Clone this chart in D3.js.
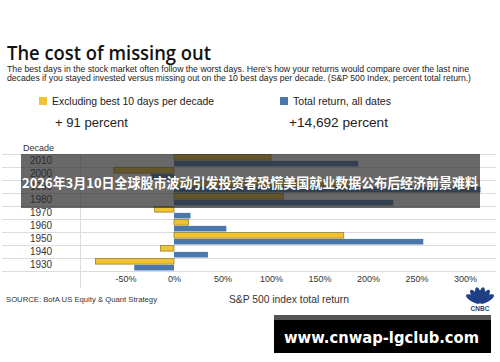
<!DOCTYPE html>
<html>
<head>
<meta charset="utf-8">
<script src="https://cdn.jsdelivr.net/npm/d3@7"></script>
<style>
  body { margin: 0; background: #fff; }
  svg { display: block; font-family: "Liberation Sans", Arial, sans-serif; }
</style>
</head>
<body>
<div id="container"></div>
<script>
// decades, top to bottom
const decades = ['2010', '2000', '1990', '1980', '1970', '1960', '1950', '1940', '1930'];
// percent total return, excluding best 10 days per decade
const excludingBest = [100, -62, 186, 113, -20, 15, 175, -14, -81];
// percent total return, all dates
const totalReturn = [190, -24, 316, 226, 17, 54, 257, 35, -41];
const tickValues = [-50, 0, 50, 100, 150, 200, 250, 300];
const seriesNames = ['Excluding best 10 days per decade', 'Total return, all dates'];
const seriesTotals = ['+ 91 percent', '+14,692 percent'];

window.onload = function () {
	'use strict';
	let options = {
		width: 500,
		height: 362,
		yellow: '#f1c232',
		yellowStroke: '#9a8232',
		blue: '#4a78ad',
		grid: '#dcdcdc',
	};

	let svg = d3.select('#container')
		.append('svg')
		.attr('width', options.width)
		.attr('height', options.height);

	// title block
	svg.append('text')
		.attr('x', 7).attr('y', 59.5)
		.attr('font-family', '"Open Sans", sans-serif')
		.attr('font-size', 19.5).attr('font-weight', 600)
		.attr('fill', '#111')
		.attr('textLength', 204).attr('lengthAdjust', 'spacingAndGlyphs')
		.text('The cost of missing out');
	let sub = svg.append('text')
		.attr('font-size', 8.2).attr('fill', '#222');
	sub.append('tspan').attr('x', 7).attr('y', 71.5)
		.attr('textLength', 462).attr('lengthAdjust', 'spacingAndGlyphs')
		.text('The best days in the stock market often follow the worst days. Here\u2019s how your returns would compare over the last nine');
	sub.append('tspan').attr('x', 7).attr('y', 80.5)
		.attr('textLength', 464).attr('lengthAdjust', 'spacingAndGlyphs')
		.text('decades if you stayed invested versus missing out on the 10 best days per decade. (S&P 500 Index, percent total return.)');

	// legend
	let legendX = [39, 280];
	let legendColors = [options.yellow, options.blue];
	let legendLen = [162, 98];
	let totalX = [55, 289];
	let totalLen = [73, 99];
	seriesNames.forEach((name, i) => {
		svg.append('rect')
			.attr('x', legendX[i]).attr('y', 97)
			.attr('width', 8).attr('height', 8)
			.attr('fill', legendColors[i]);
		svg.append('text')
			.attr('x', legendX[i] + 13).attr('y', 104.5)
			.attr('font-size', 10.2).attr('fill', '#222')
			.attr('textLength', legendLen[i]).attr('lengthAdjust', 'spacingAndGlyphs')
			.text(name);
		svg.append('text')
			.attr('x', totalX[i]).attr('y', 127)
			.attr('font-size', 13.5).attr('fill', '#222')
			.attr('textLength', totalLen[i]).attr('lengthAdjust', 'spacingAndGlyphs')
			.text(seriesTotals[i]);
	});

	// scales
	let x = d3.scaleLinear().domain([-50, 300]).range([125.5, 465]);
	let y = d3.scaleBand().domain(decades).range([154, 271]);
	let inner = d3.scaleBand().domain(['excl', 'total']).range([0, y.bandwidth()])
		.paddingInner(0.12).paddingOuter(0.08);

	// gridlines
	let lines = [...decades.map((d) => y(d)), y(decades[decades.length - 1]) + y.bandwidth()];
	svg.append('g').selectAll('line')
		.data(lines).enter().append('line')
		.attr('x1', 2).attr('x2', 496)
		.attr('y1', (d) => d + 0.5).attr('y2', (d) => d + 0.5)
		.attr('stroke', options.grid).attr('stroke-width', 1);
	svg.append('line')
		.attr('x1', 80.5).attr('x2', 80.5)
		.attr('y1', 154).attr('y2', 288)
		.attr('stroke', options.grid);

	svg.append('text')
		.attr('x', 23).attr('y', 151)
		.attr('font-size', 9).attr('fill', '#333')
		.text('Decade');

	// decade labels
	svg.append('g').selectAll('text')
		.data(decades).enter().append('text')
		.attr('x', 41)
		.attr('y', (d) => y(d) + y.bandwidth() / 2 + 3.5)
		.attr('text-anchor', 'middle')
		.attr('font-size', 10).attr('fill', '#333')
		.text((d) => d);

	let rows = decades.map((d, i) => ({ decade: d, excl: excludingBest[i], total: totalReturn[i] }));

	// bars
	svg.append('g').selectAll('rect')
		.data(rows).enter().append('rect')
		.attr('x', (d) => x(Math.min(0, d.excl)))
		.attr('width', (d) => Math.abs(x(d.excl) - x(0)))
		.attr('y', (d) => y(d.decade) + inner('excl'))
		.attr('height', inner.bandwidth())
		.attr('fill', options.yellow)
		.attr('stroke', options.yellowStroke).attr('stroke-width', 0.8);
	svg.append('g').selectAll('rect')
		.data(rows).enter().append('rect')
		.attr('x', (d) => x(Math.min(0, d.total)))
		.attr('width', (d) => Math.abs(x(d.total) - x(0)))
		.attr('y', (d) => y(d.decade) + inner('total'))
		.attr('height', inner.bandwidth())
		.attr('fill', options.blue);

	// x axis
	let axis = svg.append('g')
		.attr('transform', 'translate(0,276)')
		.call(d3.axisBottom(x).tickValues(tickValues).tickSize(0).tickPadding(0).tickFormat((d) => d + '%'));
	axis.select('.domain').remove();
	axis.selectAll('text')
		.attr('font-size', 9).attr('fill', '#333')
		.attr('font-family', '"Liberation Sans", Arial, sans-serif');

	svg.append('text')
		.attr('x', 289).attr('y', 303)
		.attr('text-anchor', 'middle')
		.attr('font-size', 10.3).attr('fill', '#333')
		.text('S&P 500 index total return');
	svg.append('text')
		.attr('x', 6).attr('y', 302)
		.attr('font-size', 7.4).attr('fill', '#333')
		.attr('textLength', 151).attr('lengthAdjust', 'spacingAndGlyphs')
		.text('SOURCE: BofA US Equity & Quant Strategy');

	// CNBC peacock
	let logo = svg.append('g').attr('transform', 'translate(480,303)');
	d3.range(6).forEach((i) => {
		let a = -150 + i * 24;
		logo.append('ellipse')
			.attr('cx', 0).attr('cy', -8)
			.attr('rx', 3).attr('ry', 8)
			.attr('fill', '#1f3f86')
			.attr('transform', 'rotate(' + (a + 90) + ',0,0)');
	});
	logo.append('text')
		.attr('x', 0).attr('y', 8)
		.attr('text-anchor', 'middle')
		.attr('font-size', 6.5).attr('font-weight', 'bold')
		.attr('fill', '#1f3f86')
		.text('CNBC');

	// overlay caption band
	svg.append('rect')
		.attr('x', 21).attr('y', 154)
		.attr('width', 459).attr('height', 54)
		.attr('fill', 'rgba(40,40,40,0.7)');
	svg.append('text')
		.attr('x', 22).attr('y', 188)
		.attr('font-family', '"Noto Sans CJK SC", sans-serif')
		.attr('font-size', 13.5).attr('font-weight', 'bold')
		.attr('fill', '#fff')
		.attr('textLength', 456).attr('lengthAdjust', 'spacingAndGlyphs')
		.text('2026年3月10日全球股市波动引发投资者恐慌美国就业数据公布后经济前景难料');

	// watermark box
	svg.append('rect')
		.attr('x', 274).attr('y', 315)
		.attr('width', 217).attr('height', 38)
		.attr('fill', '#000');
	svg.append('rect')
		.attr('x', 274).attr('y', 315)
		.attr('width', 217).attr('height', 5)
		.attr('fill', '#555');
	svg.append('text')
		.attr('x', 284).attr('y', 343)
		.attr('font-family', '"DejaVu Sans", sans-serif')
		.attr('font-size', 16).attr('font-weight', 'bold')
		.attr('fill', '#fff')
		.attr('textLength', 195).attr('lengthAdjust', 'spacingAndGlyphs')
		.text('www.cnwap-lgclub.com');
};
</script>
</body>
</html>
